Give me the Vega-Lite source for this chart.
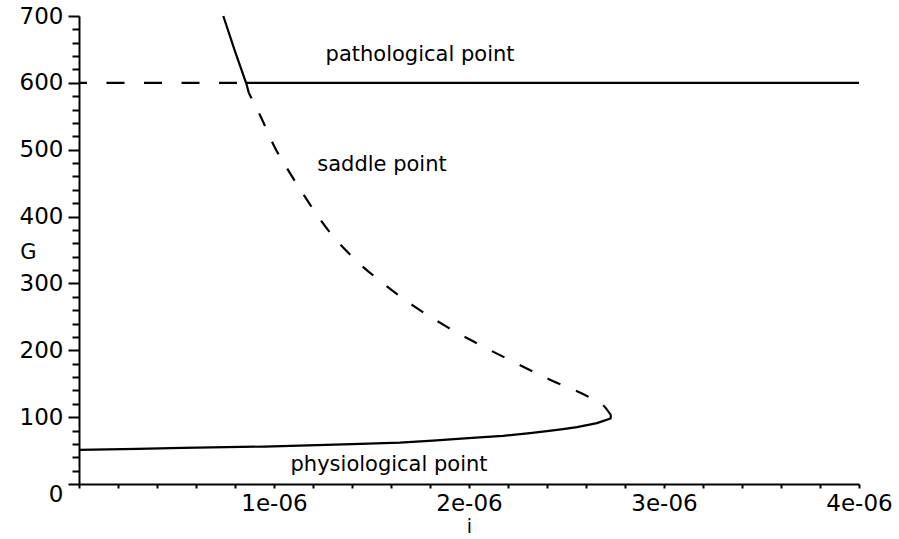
{
  "$schema": "https://vega.github.io/schema/vega-lite/v6.json",
  "width": 780,
  "height": 468,
  "autosize": {"type": "none"},
  "padding": {"left": 79, "top": 16, "right": 40, "bottom": 55},
  "background": "white",
  "config": {"view": {"stroke": null}, "font": "DejaVu Sans"},
  "datasets": {
    "curves": [
      {"s": "pd", "x": 0, "G": 600, "k": 0},
      {"s": "pd", "x": 8.58e-7, "G": 600, "k": 1},
      {"s": "ps", "x": 8.58e-7, "G": 600, "k": 0},
      {"s": "ps", "x": 4e-6, "G": 600, "k": 1},
      {"s": "up", "x": 7.4e-7, "G": 700, "k": 0},
      {"s": "up", "x": 7.98e-7, "G": 649, "k": 1},
      {"s": "up", "x": 8.58e-7, "G": 599, "k": 2},
      {"s": "up", "x": 8.71e-7, "G": 585, "k": 3},
      {"s": "sd", "x": 8.71e-7, "G": 585, "k": 0},
      {"s": "sd", "x": 9.28e-7, "G": 552, "k": 1},
      {"s": "sd", "x": 1.005e-6, "G": 503, "k": 2},
      {"s": "sd", "x": 1.082e-6, "G": 465, "k": 3},
      {"s": "sd", "x": 1.185e-6, "G": 418, "k": 4},
      {"s": "sd", "x": 1.29e-6, "G": 375, "k": 5},
      {"s": "sd", "x": 1.415e-6, "G": 336, "k": 6},
      {"s": "sd", "x": 1.569e-6, "G": 298, "k": 7},
      {"s": "sd", "x": 1.723e-6, "G": 265, "k": 8},
      {"s": "sd", "x": 1.887e-6, "G": 235, "k": 9},
      {"s": "sd", "x": 2.056e-6, "G": 208, "k": 10},
      {"s": "sd", "x": 2.226e-6, "G": 183, "k": 11},
      {"s": "sd", "x": 2.415e-6, "G": 156, "k": 12},
      {"s": "sd", "x": 2.621e-6, "G": 129, "k": 13},
      {"s": "sd", "x": 2.697e-6, "G": 115, "k": 14},
      {"s": "sd", "x": 2.728e-6, "G": 103, "k": 15},
      {"s": "lo", "x": 2.728e-6, "G": 103, "k": 0},
      {"s": "lo", "x": 2.726e-6, "G": 98, "k": 1},
      {"s": "lo", "x": 2.656e-6, "G": 91, "k": 2},
      {"s": "lo", "x": 2.554e-6, "G": 85, "k": 3},
      {"s": "lo", "x": 2.482e-6, "G": 82, "k": 4},
      {"s": "lo", "x": 2.4e-6, "G": 79, "k": 5},
      {"s": "lo", "x": 2.313e-6, "G": 76, "k": 6},
      {"s": "lo", "x": 2.174e-6, "G": 72, "k": 7},
      {"s": "lo", "x": 2.015e-6, "G": 69, "k": 8},
      {"s": "lo", "x": 1.815e-6, "G": 65, "k": 9},
      {"s": "lo", "x": 1.646e-6, "G": 62, "k": 10},
      {"s": "lo", "x": 1.4e-6, "G": 59.5, "k": 11},
      {"s": "lo", "x": 1.13e-6, "G": 57.5, "k": 12},
      {"s": "lo", "x": 9.5e-7, "G": 56, "k": 13},
      {"s": "lo", "x": 5.3e-7, "G": 54, "k": 14},
      {"s": "lo", "x": 3e-7, "G": 52.5, "k": 15},
      {"s": "lo", "x": 0, "G": 51, "k": 16}
    ],
    "labels": [
      {"t": "pathological point", "x": 1.749e-6, "G": 642},
      {"t": "saddle point", "x": 1.554e-6, "G": 477},
      {"t": "physiological point", "x": 1.59e-6, "G": 29}
    ]
  },
  "data": {"name": "curves"},
  "encoding": {
    "x": {
      "field": "x", "type": "quantitative",
      "scale": {"domain": [0, 4e-6], "nice": false, "zero": false},
      "axis": {
        "title": "i",
        "values": [0, 2e-7, 4e-7, 6e-7, 8e-7, 1e-6, 1.2e-6, 1.4e-6, 1.6e-6, 1.8e-6, 2e-6, 2.2e-6, 2.4e-6, 2.6e-6, 2.8e-6, 3e-6, 3.2e-6, 3.4e-6, 3.6e-6, 3.8e-6, 4e-6],
        "labelExpr": "datum.value > 1e-9 && abs(datum.value*1e6 - round(datum.value*1e6)) < 0.01 ? round(datum.value*1e6) + 'e-06' : ''",
        "labelFont": "DejaVu Sans", "labelFontSize": 23, "labelColor": "black",
        "labelPadding": 4, "labelBaseline": "top", "labelFlush": false, "labelOverlap": false,
        "tickSize": 4, "tickWidth": 2, "tickColor": "black",
        "domainColor": "black", "domainWidth": 2,
        "grid": false,
        "titleFont": "DejaVu Sans", "titleFontSize": 19, "titleFontWeight": "normal", "titleColor": "black",
        "titleX": 390, "titleY": 42, "titleAlign": "center", "titleBaseline": "middle"
      }
    },
    "y": {
      "field": "G", "type": "quantitative",
      "scale": {"domain": [0, 700], "nice": false},
      "axis": {
        "title": "G",
        "values": [0, 20, 40, 60, 80, 100, 120, 140, 160, 180, 200, 220, 240, 260, 280, 300, 320, 340, 360, 380, 400, 420, 440, 460, 480, 500, 520, 540, 560, 580, 600, 620, 640, 660, 680, 700],
        "labelExpr": "datum.value % 100 === 0 ? datum.label : ''",
        "labelFont": "DejaVu Sans", "labelFontSize": 23, "labelColor": "black",
        "labelPadding": 5, "labelFlush": false, "labelOverlap": false,
        "labelOffset": {"condition": {"test": "datum.value === 0", "value": 10}, "value": 0},
        "tickSize": {"condition": {"test": "datum.value % 100 === 0", "value": 11}, "value": 7},
        "tickWidth": 2, "tickColor": "black",
        "domainColor": "black", "domainWidth": 2,
        "grid": false,
        "titleFont": "DejaVu Sans", "titleFontSize": 21, "titleFontWeight": "normal", "titleColor": "black",
        "titleAngle": 0, "titleX": -51, "titleY": 236, "titleAlign": "center", "titleBaseline": "middle"
      }
    },
    "order": {"field": "k", "type": "quantitative"}
  },
  "layer": [
    {
      "transform": [{"filter": "datum.s === 'pd'"}],
      "mark": {"type": "line", "color": "black", "strokeWidth": 2.2, "strokeDash": [18, 19.5], "strokeDashOffset": 10}
    },
    {
      "transform": [{"filter": "datum.s === 'ps'"}],
      "mark": {"type": "line", "color": "black", "strokeWidth": 2.2}
    },
    {
      "transform": [{"filter": "datum.s === 'up'"}],
      "mark": {"type": "line", "color": "black", "strokeWidth": 2.2}
    },
    {
      "transform": [{"filter": "datum.s === 'sd'"}],
      "mark": {"type": "line", "color": "black", "strokeWidth": 2.2, "strokeDash": [14, 17], "strokeDashOffset": 8, "interpolate": "monotone"}
    },
    {
      "transform": [{"filter": "datum.s === 'lo'"}],
      "mark": {"type": "line", "color": "black", "strokeWidth": 2.2}
    },
    {
      "data": {"name": "labels"},
      "mark": {"type": "text", "font": "DejaVu Sans", "fontSize": 21, "color": "black", "align": "center", "baseline": "middle"},
      "encoding": {"text": {"field": "t", "type": "nominal"}, "order": null}
    }
  ]
}
